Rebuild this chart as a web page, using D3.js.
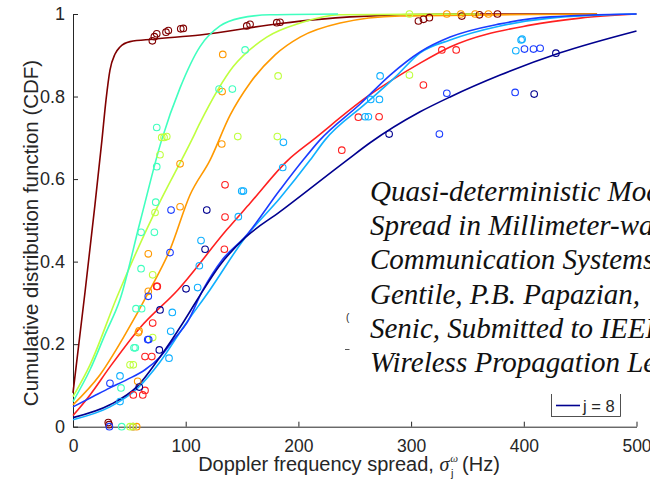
<!DOCTYPE html>
<html>
<head>
<meta charset="utf-8">
<script src="https://cdn.jsdelivr.net/npm/d3@7"></script>
<style>
  body { margin: 0; background: #fff; overflow: hidden; }
  text { font-family: "Liberation Sans", Arial, sans-serif; fill: #262626; }
</style>
</head>
<body>
<div id="chart"></div>
<script>
// Doppler spread CDF per cluster j: fitted curves + measured points
const jLabels = ["j = 1", "j = 2", "j = 3", "j = 4", "j = 5", "j = 6", "j = 7", "j = 8"];
const xTicks = [0, 100, 200, 300, 400, 500];
const yTicks = [0, 0.2, 0.4, 0.6, 0.8, 1];

// fitted curves, [spread (Hz), CDF]
const fitJ1 = [[0,0.082],[10.7,0.327],[19.5,0.538],[25.7,0.695],[29.3,0.792],[32.8,0.864],[37.3,0.903],[41.7,0.92],[50.6,0.933],[71,0.939],[112.7,0.949],[183.7,0.977],[245.9,0.993],[334.6,1],[465,1]];
const fitJ2 = [[0,0.027],[15.1,0.077],[32.8,0.145],[59.5,0.24],[93.2,0.332],[136.4,0.477],[157.3,0.542],[190.8,0.646],[213,0.695],[260.7,0.799],[308,0.881],[334.6,0.92],[405.6,0.973],[450,0.99],[500,1]];
const fitJ3 = [[0,0.053],[24,0.126],[46.2,0.223],[68.3,0.332],[86.1,0.429],[103.9,0.562],[121.6,0.646],[139.4,0.755],[157.1,0.833],[179.3,0.901],[201.5,0.944],[237,0.978],[290.3,0.995],[465,1]];
const fitJ4 = [[0,0.073],[15.1,0.15],[39.1,0.315],[72.8,0.521],[105.4,0.695],[112.7,0.736],[142,0.872],[171.9,0.944],[201.5,0.978],[237,0.998],[361,1]];
const fitJ5 = [[0,0.061],[15.1,0.138],[28.4,0.223],[41.7,0.308],[59.5,0.496],[78.7,0.695],[95,0.821],[112.7,0.921],[130.5,0.971],[148.2,0.99],[174.9,0.998],[235.2,1]];
const fitJ6 = [[0,0.017],[32.8,0.048],[56.8,0.092],[77.2,0.157],[99.4,0.247],[121.6,0.332],[152.7,0.458],[183.7,0.554],[210.4,0.646],[223.7,0.695],[259.3,0.782],[285.9,0.847],[308,0.906],[334.6,0.937],[379,0.971],[423.4,0.99],[500,1]];
const fitJ7 = [[0,0.048],[17.8,0.073],[32.8,0.094],[47.9,0.114],[63.9,0.138],[77.2,0.169],[90.5,0.215],[101.2,0.252],[115.4,0.332],[132.3,0.404],[152.7,0.46],[183.7,0.574],[204.2,0.646],[219.2,0.695],[254.8,0.782],[281.4,0.852],[308,0.908],[334.6,0.944],[379,0.976],[423.4,0.993],[500,1]];
const fitJ8 = [[0,0.022],[32.8,0.053],[56.8,0.097],[77.2,0.169],[97.6,0.252],[110.1,0.307],[130.5,0.392],[152.7,0.458],[183.7,0.521],[243.2,0.646],[263.6,0.688],[308,0.763],[334.6,0.799],[379,0.852],[432.3,0.906],[500,0.959]];

// measured points
const ptsJ1 = [[31.3,0.01],[32,0.005],[70.4,0.935],[72.2,0.945],[74.3,0.952],[82.5,0.956],[84.6,0.96],[95.6,0.964],[97.9,0.965],[154.2,0.971],[157.1,0.975],[180.8,0.979],[183.7,0.98],[306.5,0.983],[311,0.987],[316.2,0.991],[345,0.995],[360.6,0.998],[376.6,1]];
const ptsJ2 = [[53.3,0],[53.5,0.077],[61.9,0.077],[63.9,0.088],[63.9,0.17],[69.9,0.17],[70.7,0.251],[74.3,0.34],[74.8,0.34],[134.3,0.43],[134.9,0.508],[134.9,0.586],[238.5,0.67],[253.2,0.75],[271.6,0.751],[310.9,0.828],[327.3,0.913],[340,0.913]];
const ptsJ3 = [[56.5,0],[57.4,0.11],[58,0.228],[58.6,0.232],[66.8,0.328],[66.8,0.419],[95,0.533],[95,0.637],[132,0.685],[132.3,0.812],[132.9,0.902],[331.7,1],[344.1,1],[356.8,1],[368.6,1]];
const ptsJ4 = [[50.6,0],[53.3,0],[50.6,0.15],[53.5,0.15],[70.7,0.216],[70.7,0.368],[72.8,0.519],[77.2,0.659],[78.7,0.701],[80.8,0.701],[83.2,0.703],[146.2,0.703],[181.3,0.703],[182,0.85],[298.5,0.852],[298.5,1]];
const ptsJ5 = [[43.2,0],[42.6,0.094],[54.1,0.191],[55.3,0.191],[55.9,0.286],[60.9,0.286],[60.4,0.383],[60.4,0.471],[72.2,0.471],[73.4,0.544],[74.3,0.63],[74.3,0.725],[129.6,0.818],[141.4,0.818],[152.7,0.913]];
const ptsJ6 = [[41.7,0.061],[41.7,0.123],[85.2,0.166],[86.7,0.231],[88.1,0.277],[110.6,0.337],[112.1,0.39],[113.6,0.451],[146.7,0.509],[149.7,0.571],[151.2,0.571],[186.1,0.628],[186.7,0.689],[259.2,0.751],[262.1,0.751],[264.2,0.793],[271.9,0.793],[272.5,0.85],[392.9,0.911],[397.6,0.937],[398.5,0.939]];
const ptsJ7 = [[32.3,0],[32.8,0.105],[66.3,0.211],[67.2,0.211],[66.8,0.316],[86.1,0.422],[87,0.525],[325.1,0.709],[331.7,0.808],[392.3,0.81],[400.6,0.915],[408.6,0.915],[414.5,0.917]];
const ptsJ8 = [[58.8,0.096],[76.6,0.186],[77.2,0.283],[100.3,0.334],[117.2,0.43],[118.7,0.525],[280.5,0.709],[409.2,0.806],[428.5,0.905]];

const fits = [fitJ1, fitJ2, fitJ3, fitJ4, fitJ5, fitJ6, fitJ7, fitJ8];
const pts = [ptsJ1, ptsJ2, ptsJ3, ptsJ4, ptsJ5, ptsJ6, ptsJ7, ptsJ8];
const colours = ["#800000", "#ff2020", "#ff9900", "#bfff3f", "#40ffbf", "#10b0ff", "#1a3cff", "#00008f"];

const noteLines = [
  "Quasi-deterministic Model for Doppler",
  "Spread in Millimeter-wave Vehicular",
  "Communication Systems, C.",
  "Gentile, P.B. Papazian,",
  "Senic, Submitted to IEEE Antennas and",
  "Wireless Propagation Letters"
];

const W = 650, H = 482;
const margin = {top: 14, right: 13.5, bottom: 55.3, left: 73};

const svg = d3.select("#chart").append("svg")
    .attr("width", W)
    .attr("height", H);

const x = d3.scaleLinear().domain([0, 500]).range([margin.left, W - margin.right]);
const y = d3.scaleLinear().domain([0, 1]).range([H - margin.bottom, margin.top]);

// axes (MATLAB style, ticks pointing in)
svg.append("g")
    .attr("transform", "translate(0," + y(0) + ")")
    .call(d3.axisBottom(x).tickValues(xTicks).tickSize(-5).tickPadding(13).tickSizeOuter(0))
    .call(g => g.selectAll("text").style("font-size", "17.5px"));

svg.append("g")
    .attr("transform", "translate(" + x(0) + ",0)")
    .call(d3.axisLeft(y).tickValues(yTicks).tickFormat(d3.format("~g")).tickSize(-5).tickPadding(8).tickSizeOuter(0))
    .call(g => g.selectAll("text").style("font-size", "18px"));

svg.selectAll(".domain, .tick line").attr("stroke", "#262626");
svg.selectAll(".tick text").attr("fill", "#262626");

// fitted lines
const line = d3.line()
    .x(d => x(d[0]))
    .y(d => y(d[1]))
    .curve(d3.curveMonotoneX);

svg.selectAll(".fit")
    .data(fits)
    .enter()
    .append("path")
    .attr("class", "fit")
    .attr("d", line)
    .attr("fill", "none")
    .attr("stroke", (d, i) => colours[i])
    .attr("stroke-width", 1.6);

// circles
pts.forEach(function(series, i) {
    svg.selectAll(".pt" + i)
        .data(series)
        .enter()
        .append("circle")
        .attr("cx", d => x(d[0]))
        .attr("cy", d => y(d[1]))
        .attr("r", 3.3)
        .attr("fill", "none")
        .attr("stroke", colours[i])
        .attr("stroke-width", 1.1);
});

// axis labels
svg.append("text")
    .attr("transform", "translate(38,233) rotate(-90)")
    .attr("text-anchor", "middle")
    .style("font-size", "20.5px")
    .text("Cumulative distribution function (CDF)");

const xl = svg.append("text")
    .attr("x", 349)
    .attr("y", 471)
    .attr("text-anchor", "middle")
    .style("font-size", "20px");
xl.append("tspan").text("Doppler frequency spread, ");
xl.append("tspan").text("σ").style("font-family", "'Liberation Serif', serif").style("font-style", "italic");
xl.append("tspan").text("ω").attr("dy", -9).attr("dx", 1).style("font-size", "11px").style("font-family", "'Liberation Serif', serif").style("font-style", "italic");
xl.append("tspan").text("j").attr("dy", 15).attr("dx", -7).style("font-size", "11px");
xl.append("tspan").text(" (Hz)").attr("dy", -6).attr("dx", 3);

// legend (only last entry shows under the note)
const lg = svg.append("g");
lg.append("rect")
    .attr("x", 551.5).attr("y", 380.5)
    .attr("width", 69).attr("height", 36)
    .attr("fill", "#fff").attr("stroke", "#262626").attr("stroke-width", 0.8);
lg.append("line")
    .attr("x1", 556).attr("x2", 580)
    .attr("y1", 405.5).attr("y2", 405.5)
    .attr("stroke", colours[7]).attr("stroke-width", 1.6);
lg.append("text")
    .attr("x", 583).attr("y", 411.5)
    .style("font-size", "16.5px")
    .text(jLabels[7]);

// stray bits of an underlying label
svg.append("text").attr("x", 346).attr("y", 321).style("font-size", "10px").attr("fill", "#444").text("(");
svg.append("line").attr("x1", 345).attr("x2", 349.5).attr("y1", 349.5).attr("y2", 349.5).attr("stroke", "#555");

// note pasted over the plot
svg.append("rect")
    .attr("x", 353).attr("y", 172)
    .attr("width", W - 353).attr("height", 222)
    .attr("fill", "#fff");

svg.selectAll(".note")
    .data(noteLines)
    .enter()
    .append("text")
    .attr("class", "note")
    .attr("x", 370)
    .attr("y", (d, i) => 201 + i * 34.2)
    .style("font-family", "'Liberation Serif', 'Times New Roman', serif")
    .style("font-style", "italic")
    .style("font-size", "29px")
    .style("fill", "#111")
    .text(d => d);
</script>
</body>
</html>
